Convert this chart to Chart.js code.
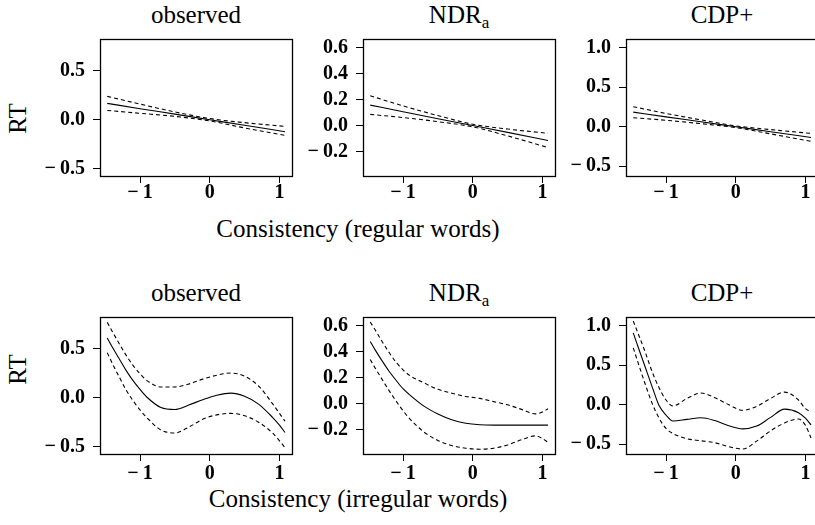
<!DOCTYPE html>
<html>
<head>
<meta charset="utf-8">
<script src="https://cdn.jsdelivr.net/npm/chart.js@4.4.1/dist/chart.umd.min.js"></script>
<style>
  html, body { margin: 0; padding: 0; background: #fff; overflow: hidden; }
  body { width: 815px; height: 525px; position: relative; font-family: "Liberation Serif", serif; color: #000; }
  canvas { position: absolute; }
  .lbl { position: absolute; font-size: 25px; line-height: 25px; white-space: nowrap; text-align: center; width: 300px; }
  .sub { font-size: 17px; position: relative; top: 5px; }
  .ylab { position: absolute; font-size: 25px; line-height: 25px; width: 60px; text-align: center; transform: rotate(-90deg); }
</style>
</head>
<body>
<div class="lbl" style="left:46px; top:1.6px">observed</div>
<div class="lbl" style="left:309px; top:1.6px">NDR<span class="sub">a</span></div>
<div class="lbl" style="left:572px; top:1.6px">CDP+</div>
<div class="lbl" style="left:46px; top:279.6px">observed</div>
<div class="lbl" style="left:309px; top:279.6px">NDR<span class="sub">a</span></div>
<div class="lbl" style="left:572px; top:279.6px">CDP+</div>
<div class="lbl" style="left:208px; top:216px">Consistency (regular words)</div>
<div class="lbl" style="left:208px; top:485.6px">Consistency (irregular words)</div>
<div class="ylab" style="left:-13px; top:105.5px">RT</div>
<div class="ylab" style="left:-13px; top:356.5px">RT</div>

<script>
// x values (standardised consistency)
const xRegular = [-1.47, -1, -0.5, 0, 0.5, 1.08];
const xIrregular = [-1.47, -1.4, -1.3, -1.2, -1.1, -1.0, -0.9, -0.7, -0.5, -0.3, -0.1, 0.1, 0.3, 0.5, 0.7, 0.9, 1.0, 1.08];
const xTicks = [-1, 0, 1];

// tick labels per panel type
const yTicksObserved = [-0.5, 0, 0.5];
const yTicksNdr = [-0.2, 0, 0.2, 0.4, 0.6];
const yTicksCdp = [-0.5, 0, 0.5, 1.0];

// regular words
const obsRegFit = [0.167, 0.113, 0.057, 0.0, -0.057, -0.122];
const obsRegUpper = [0.239, 0.160, 0.080, 0.012, -0.030, -0.068];
const obsRegLower = [0.095, 0.066, 0.034, -0.012, -0.084, -0.160];

const ndrRegFit = [0.158, 0.107, 0.053, 0.0, -0.053, -0.115];
const ndrRegUpper = [0.230, 0.152, 0.077, 0.010, -0.027, -0.060];
const ndrRegLower = [0.086, 0.062, 0.030, -0.010, -0.080, -0.170];

const cdpRegFit = [0.185, 0.125, 0.063, 0.0, -0.063, -0.136];
const cdpRegUpper = [0.254, 0.168, 0.087, 0.011, -0.036, -0.084];
const cdpRegLower = [0.114, 0.082, 0.039, -0.011, -0.090, -0.185];

// irregular words
const obsIrrFit = [0.61, 0.52, 0.40, 0.28, 0.175, 0.085, 0.005, -0.10, -0.12, -0.075, -0.02, 0.025, 0.047, 0.015, -0.065, -0.20, -0.28, -0.355];
const obsIrrUpper = [0.77, 0.68, 0.555, 0.435, 0.33, 0.245, 0.175, 0.11, 0.11, 0.14, 0.19, 0.23, 0.252, 0.22, 0.12, -0.06, -0.16, -0.24];
const obsIrrLower = [0.46, 0.355, 0.215, 0.08, -0.03, -0.125, -0.205, -0.33, -0.36, -0.30, -0.22, -0.175, -0.16, -0.185, -0.25, -0.36, -0.44, -0.51];

const ndrIrrFit = [0.48, 0.415, 0.33, 0.25, 0.18, 0.115, 0.065, -0.02, -0.08, -0.125, -0.152, -0.164, -0.167, -0.167, -0.167, -0.167, -0.167, -0.167];
const ndrIrrUpper = [0.63, 0.57, 0.48, 0.395, 0.32, 0.26, 0.215, 0.16, 0.11, 0.08, 0.055, 0.04, 0.015, -0.01, -0.045, -0.08, -0.065, -0.04];
const ndrIrrLower = [0.34, 0.275, 0.187, 0.10, 0.02, -0.055, -0.12, -0.22, -0.285, -0.325, -0.345, -0.353, -0.345, -0.32, -0.28, -0.25, -0.27, -0.30];

const cdpIrrFit = [0.91, 0.73, 0.48, 0.23, -0.01, -0.13, -0.205, -0.185, -0.165, -0.20, -0.265, -0.305, -0.27, -0.16, -0.055, -0.10, -0.17, -0.255];
const cdpIrrUpper = [1.06, 0.90, 0.67, 0.42, 0.216, 0.06, -0.015, 0.08, 0.148, 0.09, 0.0, -0.07, -0.02, 0.08, 0.16, 0.06, -0.05, -0.09];
const cdpIrrLower = [0.72, 0.53, 0.265, 0.02, -0.17, -0.30, -0.365, -0.43, -0.455, -0.48, -0.53, -0.56, -0.46, -0.33, -0.23, -0.18, -0.26, -0.42];

const xMin = -1.574, xMax = 1.18;

const fmt = dec => v => (v < 0 ? "\u2212\u2009" : "") + Math.abs(v).toFixed(dec);

const boxPlugin = {
    id: "box",
    afterDraw(chart) {
        const { ctx, chartArea: a } = chart;
        ctx.save();
        ctx.strokeStyle = "#000";
        ctx.lineWidth = 1.3;
        ctx.strokeRect(a.left + 0.5, a.top + 0.5, a.right - a.left, a.bottom - a.top);
        ctx.restore();
    }
};

function panel(left, top, yMin, yMax, yTicks, xs, fit, upper, lower, xPad) {
    const padTop = 20, axisW = 80, axisH = 45, padRight = 6;
    const canvas = document.createElement("canvas");
    canvas.width = axisW + 192 + padRight;
    canvas.height = padTop + 137 + axisH;
    canvas.style.left = (left - axisW) + "px";
    canvas.style.top = (top - padTop) + "px";
    document.body.appendChild(canvas);

    const line = (ys, dash) => ({
        data: xs.map((x, i) => ({ x: x, y: ys[i] })),
        borderColor: "#000",
        borderWidth: 1.1,
        borderDash: dash,
        pointRadius: 0,
        fill: false,
        cubicInterpolationMode: "monotone"
    });
    const tickFont = { family: "Liberation Serif", size: 20, weight: "bold" };
    const grid = { display: true, drawOnChartArea: false, drawTicks: true, tickLength: 7, color: "#000", lineWidth: 1 };

    new Chart(canvas, {
        type: "line",
        data: { datasets: [line(upper, [4, 3]), line(fit, []), line(lower, [4, 3])] },
        options: {
            responsive: false,
            animation: false,
            devicePixelRatio: 1,
            layout: { padding: { top: padTop, right: padRight, left: 0, bottom: 0 } },
            plugins: { legend: { display: false }, tooltip: { enabled: false } },
            scales: {
                x: {
                    type: "linear", min: xMin, max: xMax,
                    afterFit: s => { s.height = axisH; },
                    afterBuildTicks: s => { s.ticks = xTicks.map(v => ({ value: v })); },
                    grid: grid, border: { display: false },
                    ticks: { padding: xPad, font: tickFont, color: "#000", maxRotation: 0, autoSkip: false, callback: fmt(0) }
                },
                y: {
                    type: "linear", min: yMin, max: yMax,
                    afterFit: s => { s.width = axisW; },
                    afterBuildTicks: s => { s.ticks = yTicks.map(v => ({ value: v })); },
                    grid: grid, border: { display: false },
                    ticks: { padding: 8, font: tickFont, color: "#000", autoSkip: false, callback: fmt(1) }
                }
            }
        },
        plugins: [boxPlugin]
    });
}

panel(100, 39, -0.575, 0.825, yTicksObserved, xRegular, obsRegFit, obsRegUpper, obsRegLower, -2);
panel(363, 39, -0.39, 0.669, yTicksNdr, xRegular, ndrRegFit, ndrRegUpper, ndrRegLower, -2);
panel(626, 39, -0.623, 1.11, yTicksCdp, xRegular, cdpRegFit, cdpRegUpper, cdpRegLower, -2);
panel(100, 317, -0.575, 0.825, yTicksObserved, xIrregular, obsIrrFit, obsIrrUpper, obsIrrLower, 1);
panel(363, 317, -0.39, 0.669, yTicksNdr, xIrregular, ndrIrrFit, ndrIrrUpper, ndrIrrLower, 1);
panel(626, 317, -0.623, 1.11, yTicksCdp, xIrregular, cdpIrrFit, cdpIrrUpper, cdpIrrLower, 1);
</script>
</body>
</html>
